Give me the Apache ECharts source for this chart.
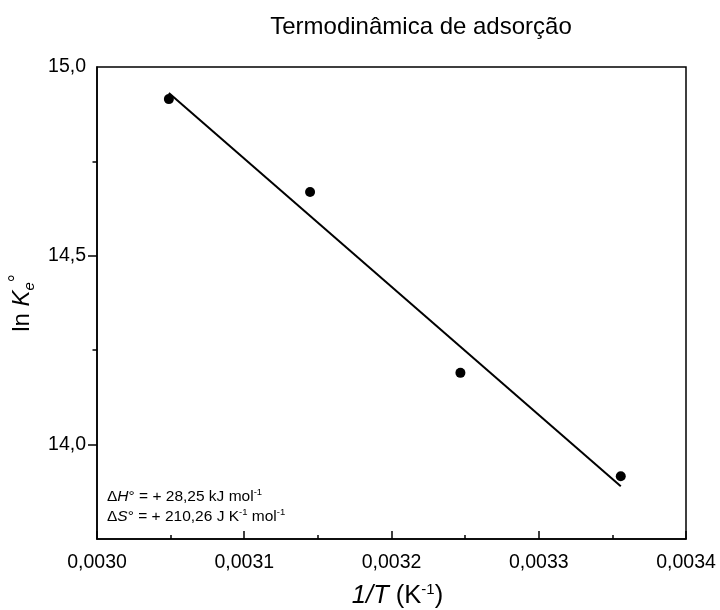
<!DOCTYPE html>
<html>
<head>
<meta charset="utf-8">
<script src="https://cdn.jsdelivr.net/npm/echarts@6/dist/echarts.min.js"></script>
<style>
  html, body { margin: 0; padding: 0; background: #fff; }
  #chart { width: 720px; height: 610px; }
</style>
</head>
<body>
<div id="chart"></div>
<script>
// Measured points: 1/T (K^-1) against ln Ke°
const invT = [0.0030488, 0.0031447, 0.0032468, 0.0033557];
const lnKe = [14.915, 14.669, 14.190, 13.916];

// End points of the linear (van't Hoff) fit
const fitX = [0.0030488, 0.0033557];
const fitY = [14.931, 13.890];

// Tick positions
const xTicks = [0.0030, 0.0031, 0.0032, 0.0033, 0.0034];
const yLabelTicks = [14.0, 14.5, 15.0];
const yMajorTicks = [14.0, 14.5];
const yMinorTicks = [14.25, 14.75];

const FONT = '"Liberation Sans", Arial, Helvetica, sans-serif';
const comma = (v, d) => v.toFixed(d).replace('.', ',');

const chart = echarts.init(document.getElementById('chart'), null, { renderer: 'canvas' });

const yBase = {
  type: 'value',
  position: 'left',
  min: 13.75,
  max: 15.0,
  splitLine: { show: false }
};

chart.setOption({
  backgroundColor: '#ffffff',
  animation: false,
  title: {
    text: 'Termodinâmica de adsorção',
    left: 416,
    top: 10,
    textAlign: 'center',
    textStyle: { fontFamily: FONT, fontSize: 24, fontWeight: 'normal', color: '#000' }
  },
  grid: {
    left: 97, right: 34, top: 67, bottom: 71,
    containLabel: false,
    outerBoundsMode: 'none',
    show: true, borderColor: '#000', borderWidth: 1.5, backgroundColor: 'transparent'
  },
  xAxis: {
    type: 'value',
    min: 0.0030,
    max: 0.0034,
    interval: 0.0001,
    name: '{i|1/T} {n|(K}{s|-1}{n|)}',
    nameLocation: 'middle',
    nameGap: 43,
    nameTextStyle: {
      fontFamily: FONT, fontSize: 25.5, color: '#000',
      padding: [0, 0, 0, 12],
      rich: {
        i: { fontFamily: FONT, fontSize: 25.5, fontStyle: 'italic', color: '#000', lineHeight: 28 },
        n: { fontFamily: FONT, fontSize: 25.5, color: '#000', lineHeight: 28 },
        s: { fontFamily: FONT, fontSize: 15, color: '#000', verticalAlign: 'top', lineHeight: 28 }
      }
    },
    axisLine: { show: true, onZero: false, lineStyle: { color: '#000', width: 1.5 } },
    axisTick: { show: true, inside: true, length: 8, customValues: xTicks, lineStyle: { color: '#000', width: 1.5 } },
    minorTick: { show: true, splitNumber: 2, length: 4, lineStyle: { color: '#000', width: 1.5 } },
    axisLabel: {
      customValues: xTicks,
      margin: 14,
      fontFamily: FONT, fontSize: 19.5, color: '#000',
      formatter: v => comma(v, 4)
    },
    splitLine: { show: false },
    minorSplitLine: { show: false }
  },
  yAxis: [
    Object.assign({}, yBase, {
      name: '{n|ln }{i|K}{sub|e}{sup|°}',
      nameLocation: 'middle',
      nameGap: 53,
      nameTextStyle: {
        fontFamily: FONT, fontSize: 24, color: '#000',
        rich: {
          n: { fontFamily: FONT, fontSize: 24, color: '#000', lineHeight: 30 },
          i: { fontFamily: FONT, fontSize: 24, fontStyle: 'italic', color: '#000', lineHeight: 30 },
          sub: { fontFamily: FONT, fontSize: 15, fontStyle: 'italic', color: '#000', verticalAlign: 'bottom', lineHeight: 30 },
          sup: { fontFamily: FONT, fontSize: 20, color: '#000', verticalAlign: 'top', lineHeight: 30 }
        }
      },
      axisLine: { show: true, onZero: false, lineStyle: { color: '#000', width: 1.5 } },
      axisTick: { show: true, inside: false, length: 9, customValues: yMajorTicks, lineStyle: { color: '#000', width: 1.5 } },
      axisLabel: {
        customValues: yLabelTicks,
        margin: 11,
        fontFamily: FONT, fontSize: 19.5, color: '#000',
        formatter: v => comma(v, 1)
      }
    }),
    Object.assign({}, yBase, {
      axisLine: { show: false },
      axisTick: { show: true, inside: false, length: 4.5, customValues: yMinorTicks, lineStyle: { color: '#000', width: 1.5 } },
      axisLabel: { show: false }
    })
  ],
  graphic: [
    {
      type: 'text',
      left: 107,
      top: 487,
      style: {
        text: '{n|Δ}{i|H}{n|° = + 28,25 kJ mol}{s|-1}\n{n|Δ}{i|S}{n|° = + 210,26 J K}{s|-1}{n| mol}{s|-1}',
        fontFamily: FONT,
        fill: '#000',
        rich: {
          n: { fontFamily: FONT, fontSize: 15.5, fill: '#000', lineHeight: 20 },
          i: { fontFamily: FONT, fontSize: 15.5, fontStyle: 'italic', fill: '#000', lineHeight: 20 },
          s: { fontFamily: FONT, fontSize: 9.5, fill: '#000', verticalAlign: 'top', lineHeight: 20 }
        }
      }
    }
  ],
  series: [
    {
      name: 'fit',
      type: 'line',
      yAxisIndex: 0,
      data: fitX.map((x, i) => [x, fitY[i]]),
      showSymbol: false,
      symbol: 'none',
      lineStyle: { color: '#000', width: 2 },
      silent: true,
      z: 2
    },
    {
      name: 'ln Ke',
      type: 'scatter',
      yAxisIndex: 0,
      data: invT.map((x, i) => [x, lnKe[i]]),
      symbol: 'circle',
      symbolSize: 10,
      itemStyle: { color: '#000', opacity: 1 },
      z: 3
    }
  ]
});
</script>
</body>
</html>
